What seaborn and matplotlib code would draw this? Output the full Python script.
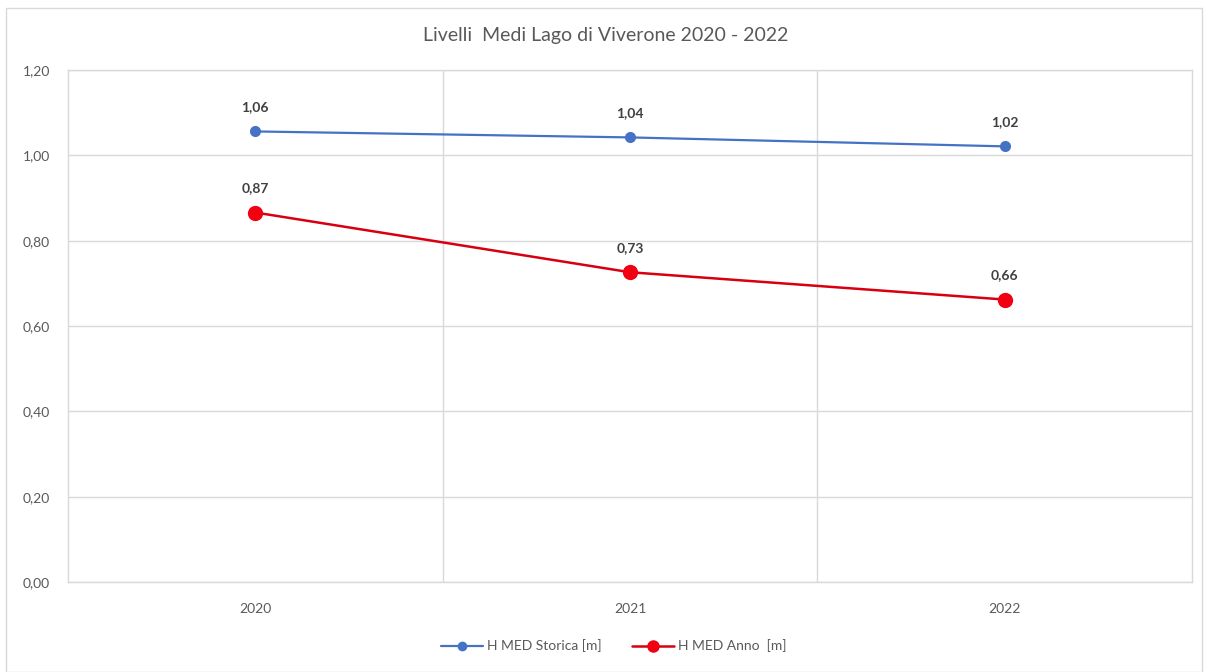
import matplotlib
matplotlib.use("Agg")
import matplotlib.pyplot as plt
import seaborn as sns
import pandas as pd
from matplotlib.patches import Rectangle
from matplotlib.lines import Line2D

# Mean lake levels, Lago di Viverone
years = ["2020", "2021", "2022"]
storica = [1.056, 1.042, 1.021]
anno = [0.866, 0.726, 0.662]
series_names = ["H MED Storica [m]", "H MED Anno  [m]"]
y_ticks = [0.0, 0.2, 0.4, 0.6, 0.8, 1.0, 1.2]

df = pd.DataFrame({
    "Anno": years * 2,
    "Livello": storica + anno,
    "Serie": [series_names[0]] * 3 + [series_names[1]] * 3,
})

sns.set_theme(style="white")
plt.rcParams["font.family"] = ["Lato", "DejaVu Sans"]

blue = "#4472C4"
red_line = "#D80010"
red_mark = "#F00010"
grid_c = "#D9D9D9"
txt_c = "#595959"

fig = plt.figure(figsize=(12.06, 6.72), dpi=100)
ax = fig.add_axes([68 / 1206, 1 - 582 / 672, (1192 - 68) / 1206, (582 - 70) / 672])

xpos = {y: i for i, y in enumerate(years)}
df["x"] = df["Anno"].map(xpos)

sns.lineplot(data=df[df["Serie"] == series_names[0]], x="x", y="Livello",
             color=blue, lw=1.6, marker="o", markersize=8, markeredgewidth=0,
             ax=ax, legend=False, zorder=3)
sns.lineplot(data=df[df["Serie"] == series_names[1]], x="x", y="Livello",
             color=red_line, lw=1.8, marker="o", markersize=11, markeredgewidth=0,
             markerfacecolor=red_mark, ax=ax, legend=False, zorder=4)

ax.set_xlim(-0.5, 2.5)
ax.set_ylim(0, 1.2)
ax.set_yticks(y_ticks)
ax.set_yticklabels([f"{v:.2f}".replace(".", ",") for v in y_ticks])
ax.set_xticks(range(len(years)))
ax.set_xticklabels(years)
ax.tick_params(axis="both", length=0, labelsize=10, labelcolor=txt_c)
ax.tick_params(axis="y", pad=13)
ax.tick_params(axis="x", pad=15)
ax.set_xlabel("")
ax.set_ylabel("")

# horizontal gridlines and category separators
for v in y_ticks:
    ax.axhline(v, color=grid_c, lw=1.0, zorder=0)
for b in [0.5, 1.5]:
    ax.axvline(b, color=grid_c, lw=1.0, zorder=0)
for s in ax.spines.values():
    s.set_color(grid_c)
    s.set_linewidth(1.0)

# value labels
for vals in (storica, anno):
    for i, v in enumerate(vals):
        ax.annotate(f"{v:.2f}".replace(".", ","), (i, v), xytext=(0, 13),
                    textcoords="offset points", ha="center", va="bottom",
                    fontsize=10, fontweight="bold", color="#404040")

fig.text(0.5 + 3 / 1206, 1 - 35 / 672, "Livelli  Medi Lago di Viverone 2020 - 2022",
         ha="center", va="center", fontsize=14, color=txt_c)

handles = [
    Line2D([], [], color=blue, lw=1.6, marker="o", markersize=7, markeredgewidth=0),
    Line2D([], [], color=red_line, lw=1.8, marker="o", markersize=9, markeredgewidth=0,
           markerfacecolor=red_mark),
]
fig.legend(handles, series_names, loc="center", bbox_to_anchor=(614 / 1206, 1 - 646 / 672),
           ncol=2, frameon=False, fontsize=10, labelcolor=txt_c,
           handlelength=3.0, handletextpad=0.3, columnspacing=2.2)

fig.patches.append(Rectangle((6 / 1206, 0), 1 - 10 / 1206, 1 - 8 / 672,
                             transform=fig.transFigure, fill=False,
                             edgecolor="#D9D9D9", lw=1.0))

fig.savefig("out.png", dpi=100, facecolor="white")
